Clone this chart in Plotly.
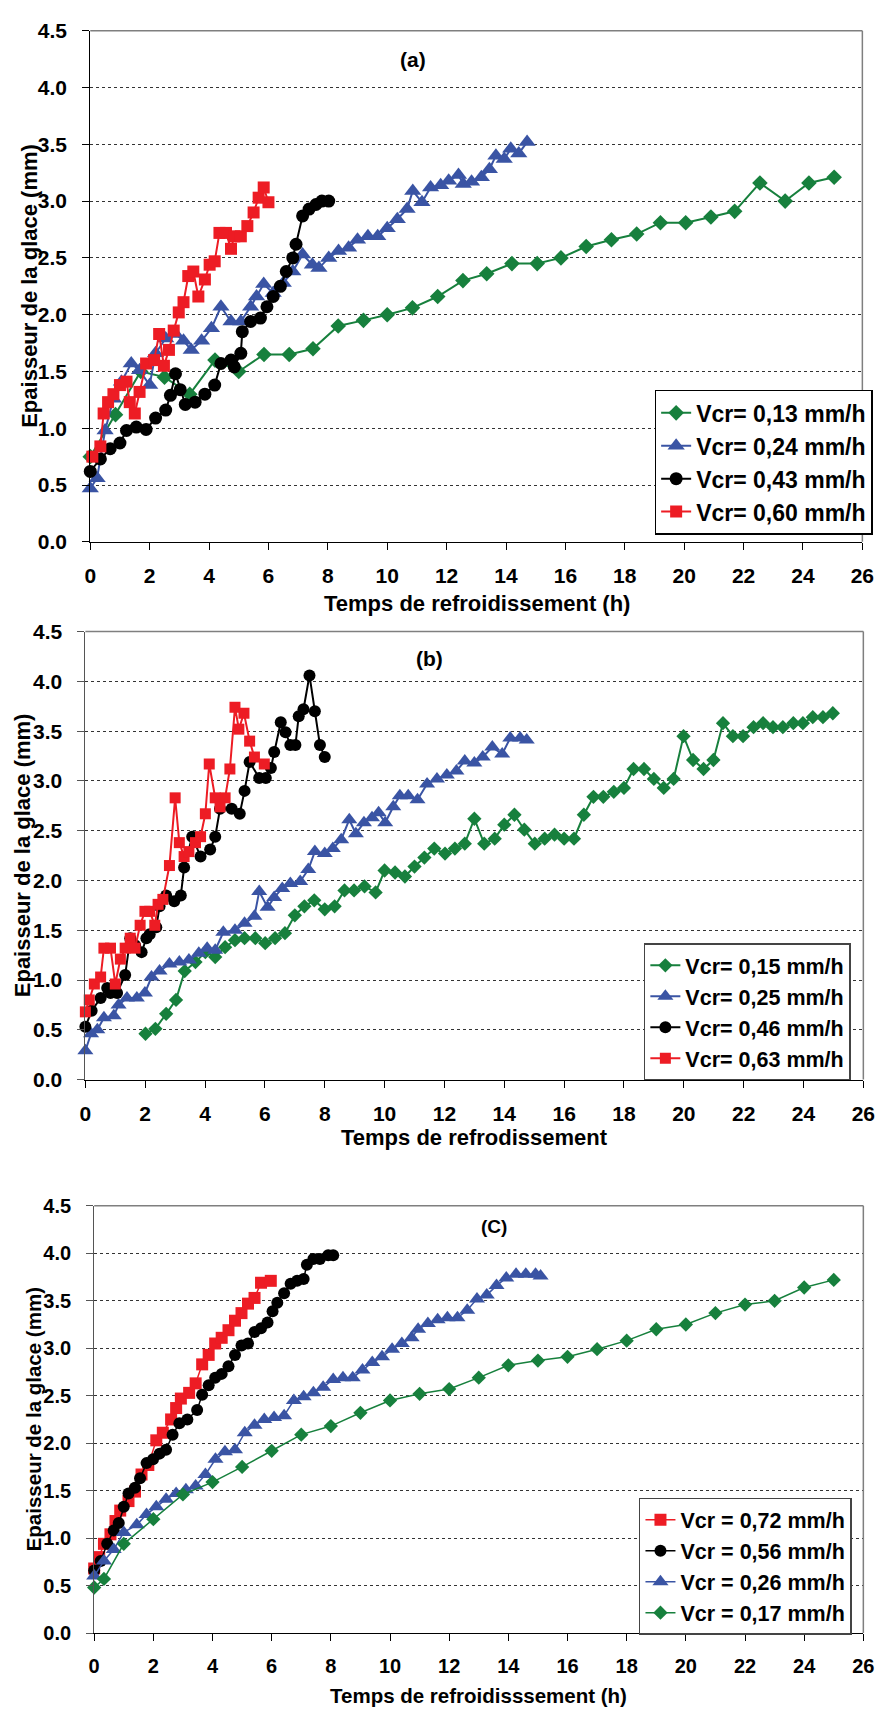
import plotly.graph_objects as go

# ---------- panel (a) ----------
ta_013 = [0.0, 0.85, 1.7, 2.5, 3.35, 4.2, 5.0, 5.85, 6.7, 7.5, 8.35, 9.2, 10.0, 10.85, 11.7, 12.55,
          13.35, 14.2, 15.05, 15.85, 16.7, 17.55, 18.4, 19.2, 20.05, 20.9, 21.7, 22.55, 23.4, 24.2, 25.05]
ha_013 = [0.75, 1.12, 1.5, 1.45, 1.3, 1.6, 1.5, 1.65, 1.65, 1.7, 1.9, 1.95, 2.0, 2.06, 2.16, 2.3,
          2.36, 2.45, 2.45, 2.5, 2.6, 2.66, 2.71, 2.81, 2.81, 2.86, 2.91, 3.16, 3.0, 3.16, 3.21]
ta_024 = [0.0, 0.23, 0.5, 0.78, 1.05, 1.38, 1.66, 2.0, 2.2, 2.54, 2.87, 3.14, 3.4, 3.75, 4.08, 4.4,
          4.74, 5.07, 5.4, 5.6, 5.84, 6.16, 6.5, 6.82, 7.15, 7.48, 7.7, 8.03, 8.36, 8.7, 9.0, 9.35,
          9.68, 10.0, 10.34, 10.67, 10.86, 11.17, 11.46, 11.8, 12.07, 12.4, 12.56, 12.84, 13.17,
          13.44, 13.66, 13.94, 14.16, 14.43, 14.71]
ha_024 = [0.47, 0.56, 0.98, 1.26, 1.41, 1.57, 1.51, 1.38, 1.66, 1.79, 1.83, 1.77, 1.69, 1.77, 1.88, 2.07,
          1.94, 1.94, 2.07, 2.16, 2.27, 2.19, 2.28, 2.38, 2.53, 2.44, 2.41, 2.5, 2.56, 2.59, 2.66, 2.69,
          2.69, 2.76, 2.84, 2.93, 3.09, 2.99, 3.12, 3.14, 3.18, 3.23, 3.15, 3.17, 3.21,
          3.28, 3.4, 3.37, 3.46, 3.42, 3.52]
ta_043 = [0.0, 0.34, 0.67, 1.0, 1.22, 1.55, 1.88, 2.2, 2.54, 2.7, 2.87, 3.03, 3.2, 3.53, 3.86, 4.19,
          4.4, 4.74, 4.85, 5.07, 5.12, 5.4, 5.73, 5.95, 6.16, 6.4, 6.6, 6.82, 6.93, 7.15, 7.37, 7.6, 7.8, 8.03]
ha_043 = [0.62, 0.73, 0.82, 0.87, 0.98, 1.01, 0.99, 1.09, 1.16, 1.29, 1.48, 1.34, 1.21, 1.23, 1.3, 1.38,
          1.57, 1.6, 1.54, 1.66, 1.85, 1.94, 1.97, 2.07, 2.16, 2.25, 2.38, 2.5, 2.62, 2.87, 2.93, 2.97, 3.0, 3.0]
ta_060 = [0.07, 0.34, 0.45, 0.6, 0.78, 1.0, 1.22, 1.33, 1.5, 1.66, 1.88, 2.15, 2.32, 2.48, 2.65, 2.81,
          2.98, 3.14, 3.3, 3.47, 3.64, 3.86, 4.02, 4.19, 4.35, 4.57, 4.74, 4.85, 5.07, 5.29, 5.5, 5.67, 5.84, 6.0]
ha_060 = [0.75, 0.84, 1.13, 1.23, 1.3, 1.38, 1.41, 1.23, 1.13, 1.32, 1.57, 1.6, 1.83, 1.55, 1.69, 1.86,
          2.02, 2.11, 2.34, 2.38, 2.16, 2.31, 2.44, 2.47, 2.72, 2.72, 2.58, 2.69, 2.69, 2.78, 2.9, 3.03, 3.12, 2.99]

# ---------- panel (b) ----------
tb_015 = [2.01, 2.34, 2.7, 3.03, 3.32, 3.68, 4.01, 4.34, 4.67, 5.0, 5.32, 5.68, 6.01, 6.34, 6.67, 7.0,
          7.32, 7.65, 8.0, 8.33, 8.66, 8.98, 9.33, 9.7, 10.0, 10.35, 10.68, 11.0, 11.33, 11.66, 12.02,
          12.35, 12.68, 13.0, 13.33, 13.68, 14.0, 14.34, 14.67, 15.02, 15.35, 15.68, 16.0, 16.33, 16.66,
          16.98, 17.31, 17.66, 18.0, 18.32, 18.67, 19.0, 19.33, 19.66, 19.99, 20.31, 20.66, 20.99, 21.31,
          21.64, 21.98, 22.33, 22.65, 22.98, 23.31, 23.66, 23.98, 24.31, 24.65, 24.98]
hb_015 = [0.46, 0.51, 0.66, 0.8, 1.09, 1.18, 1.28, 1.23, 1.33, 1.4, 1.42, 1.42, 1.37, 1.42, 1.47, 1.65,
          1.74, 1.8, 1.71, 1.74, 1.9, 1.9, 1.94, 1.88, 2.1, 2.08, 2.04, 2.14, 2.23, 2.32, 2.27,
          2.32, 2.37, 2.62, 2.37, 2.42, 2.56, 2.66, 2.51, 2.37, 2.42, 2.46, 2.42, 2.42, 2.66,
          2.84, 2.84, 2.89, 2.93, 3.12, 3.12, 3.02, 2.93, 3.02, 3.45, 3.21, 3.12, 3.21, 3.58,
          3.45, 3.45, 3.54, 3.58, 3.54, 3.54, 3.58, 3.58, 3.64, 3.64, 3.68]
tb_025 = [0.0, 0.19, 0.4, 0.62, 0.95, 1.11, 1.39, 1.72, 1.99, 2.21, 2.48, 2.81, 3.14, 3.46, 3.79, 4.07,
          4.34, 4.61, 5.0, 5.32, 5.65, 5.81, 6.09, 6.31, 6.58, 6.85, 7.18, 7.45, 7.67, 8.0, 8.27, 8.55,
          8.82, 9.04, 9.31, 9.58, 9.8, 10.02, 10.29, 10.51, 10.79, 11.1, 11.42, 11.75, 12.08, 12.4,
          12.68, 13.0, 13.28, 13.6, 13.93, 14.2, 14.53, 14.75]
hb_025 = [0.29, 0.46, 0.5, 0.62, 0.64, 0.75, 0.82, 0.82, 0.87, 1.03, 1.09, 1.16, 1.18, 1.2, 1.27, 1.32,
          1.3, 1.48, 1.5, 1.57, 1.64, 1.89, 1.73, 1.83, 1.92, 1.97, 1.99, 2.11, 2.29, 2.27, 2.32, 2.41,
          2.61, 2.47, 2.58, 2.63, 2.68, 2.58, 2.74, 2.85, 2.85, 2.81, 2.97, 3.02, 3.06, 3.1,
          3.2, 3.18, 3.24, 3.34, 3.27, 3.43, 3.43, 3.41]
tb_046 = [0.0, 0.21, 0.51, 0.73, 0.84, 1.06, 1.33, 1.5, 1.66, 1.88, 2.04, 2.15, 2.37, 2.48, 2.7, 2.97,
          3.19, 3.3, 3.57, 3.85, 4.17, 4.34, 4.5, 4.89, 5.16, 5.32, 5.49, 5.81, 6.03, 6.2, 6.31, 6.53,
          6.69, 6.85, 7.02, 7.13, 7.29, 7.49, 7.67, 7.84, 8.0]
hb_046 = [0.53, 0.69, 0.82, 0.92, 0.87, 0.87, 1.05, 1.42, 1.35, 1.28, 1.42, 1.46, 1.53, 1.74, 1.85, 1.79,
          1.85, 2.13, 2.44, 2.24, 2.31, 2.44, 2.72, 2.72, 2.67, 2.9, 3.19, 3.03, 3.03, 3.13, 3.29, 3.59,
          3.49, 3.36, 3.36, 3.65, 3.72, 4.06, 3.7, 3.36, 3.24]
tb_063 = [0.0, 0.13, 0.3, 0.51, 0.62, 0.84, 1.0, 1.17, 1.33, 1.5, 1.66, 1.83, 1.99, 2.15, 2.32, 2.43,
          2.59, 2.81, 3.0, 3.14, 3.3, 3.46, 3.68, 3.85, 4.01, 4.14, 4.34, 4.5, 4.67, 4.83, 5.0, 5.13,
          5.3, 5.49, 5.65, 5.98]
hb_063 = [0.68, 0.8, 0.96, 1.03, 1.32, 1.32, 0.96, 1.21, 1.32, 1.42, 1.32, 1.55, 1.69, 1.69, 1.55, 1.76,
          1.81, 2.15, 2.83, 2.38, 2.24, 2.29, 2.38, 2.44, 2.67, 3.17, 2.83, 2.74, 2.83, 3.12, 3.74, 3.52,
          3.68, 3.4, 3.24, 3.17]

# ---------- panel (c) ----------
tc_072 = [0.0, 0.17, 0.33, 0.55, 0.72, 0.88, 1.16, 1.38, 1.6, 1.83, 2.1, 2.32, 2.6, 2.77, 2.93, 3.21,
          3.43, 3.65, 3.87, 4.09, 4.31, 4.54, 4.76, 4.98, 5.2, 5.42, 5.64, 5.97]
hc_072 = [0.68, 0.8, 0.94, 1.04, 1.18, 1.29, 1.39, 1.49, 1.67, 1.77, 2.03, 2.11, 2.25, 2.37, 2.47, 2.53,
          2.63, 2.83, 2.93, 3.05, 3.11, 3.19, 3.29, 3.37, 3.47, 3.53, 3.69, 3.71]
tc_056 = [0.0, 0.22, 0.44, 0.66, 0.83, 1.0, 1.16, 1.38, 1.55, 1.77, 1.99, 2.21, 2.43, 2.65, 2.88, 3.15,
          3.48, 3.65, 3.87, 4.09, 4.31, 4.54, 4.76, 4.98, 5.2, 5.42, 5.64, 5.86, 6.03, 6.19, 6.42, 6.64,
          6.86, 7.08, 7.19, 7.41, 7.63, 7.91, 8.08]
hc_056 = [0.66, 0.76, 0.94, 1.08, 1.16, 1.33, 1.47, 1.53, 1.63, 1.79, 1.83, 1.89, 1.93, 2.09, 2.21, 2.25,
          2.35, 2.51, 2.61, 2.69, 2.73, 2.81, 2.93, 3.03, 3.05, 3.17, 3.21, 3.27, 3.39, 3.48, 3.58, 3.68,
          3.71, 3.73, 3.88, 3.94, 3.94, 3.98, 3.98]
tc_026 = [0.0, 0.33, 0.66, 1.0, 1.44, 1.77, 2.1, 2.43, 2.77, 3.1, 3.43, 3.76, 4.1, 4.42, 4.76, 5.09,
          5.42, 5.75, 6.08, 6.42, 6.75, 7.08, 7.41, 7.74, 8.08, 8.41, 8.74, 9.07, 9.4, 9.73, 10.07, 10.4,
          10.73, 10.95, 11.28, 11.61, 11.94, 12.28, 12.61, 12.94, 13.27, 13.6, 13.93, 14.26, 14.59, 14.92, 15.09]
hc_026 = [0.6, 0.76, 0.88, 1.06, 1.14, 1.25, 1.33, 1.41, 1.47, 1.51, 1.55, 1.67, 1.83, 1.91, 1.93, 2.11,
          2.19, 2.25, 2.27, 2.29, 2.45, 2.49, 2.53, 2.59, 2.67, 2.69, 2.69, 2.77, 2.85, 2.91, 2.99, 3.05,
          3.11, 3.2, 3.26, 3.3, 3.32, 3.32, 3.4, 3.52, 3.56, 3.66, 3.74, 3.78, 3.78, 3.78, 3.76]
tc_017 = [0.0, 0.33, 1.0, 2.0, 3.0, 4.0, 5.0, 6.0, 7.0, 8.0, 9.0, 10.0, 11.0, 12.0, 13.0, 14.0,
          15.0, 16.0, 17.0, 18.0, 19.0, 20.0, 21.0, 22.0, 23.0, 24.0, 25.0]
hc_017 = [0.48, 0.57, 0.94, 1.2, 1.46, 1.59, 1.75, 1.92, 2.09, 2.18, 2.32, 2.45, 2.52, 2.57, 2.69, 2.82,
          2.87, 2.91, 2.99, 3.08, 3.2, 3.25, 3.37, 3.46, 3.5, 3.64, 3.72]

GREEN, BLUE, BLACK, RED = "#17803d", "#3a54a4", "#000000", "#ed1c24"
FONT = "Liberation Sans, Arial, sans-serif"
W, H = 892, 1722

# pixel boxes of the three plot areas: (left, right, top, bottom)
boxes = [(86, 874, 19, 537), (81, 875, 628, 1082), (90, 875, 1210, 1643)]

fig = go.Figure()


def add(t, h, name, color, symbol, size, n, lw):
    sfx = "" if n == 1 else str(n)
    fig.add_trace(go.Scatter(
        x=t, y=h, name=name, mode="lines+markers", cliponaxis=False,
        line=dict(color=color, width=lw),
        marker=dict(symbol=symbol, size=size, color=color),
        xaxis="x" + sfx, yaxis="y" + sfx, legend="legend" + sfx))


add(ta_013, ha_013, "Vcr= 0,13 mm/h", GREEN, "diamond", 12, 1, 2)
add(ta_024, ha_024, "Vcr= 0,24 mm/h", BLUE, "triangle-up", 15, 1, 2)
add(ta_043, ha_043, "Vcr= 0,43 mm/h", BLACK, "circle", 13, 1, 2)
add(ta_060, ha_060, "Vcr= 0,60 mm/h", RED, "square", 12, 1, 2)

add(tb_015, hb_015, "Vcr= 0,15 mm/h", GREEN, "diamond", 11, 2, 2)
add(tb_025, hb_025, "Vcr= 0,25 mm/h", BLUE, "triangle-up", 14, 2, 2)
add(tb_046, hb_046, "Vcr= 0,46 mm/h", BLACK, "circle", 12, 2, 2)
add(tb_063, hb_063, "Vcr= 0,63 mm/h", RED, "square", 11, 2, 2)

add(tc_072, hc_072, "Vcr = 0,72 mm/h", RED, "square", 12, 3, 1.5)
add(tc_056, hc_056, "Vcr = 0,56 mm/h", BLACK, "circle", 12, 3, 1.5)
add(tc_026, hc_026, "Vcr = 0,26 mm/h", BLUE, "triangle-up", 14, 3, 1.5)
add(tc_017, hc_017, "Vcr = 0,17 mm/h", GREEN, "diamond", 11, 3, 1.5)

layout = dict(width=W, height=H, margin=dict(l=0, r=0, t=0, b=0),
              paper_bgcolor="white", plot_bgcolor="white", showlegend=True,
              font=dict(family=FONT, color="black"))

tick_sizes = [21, 21, 20]
for i, (l, r, t, b) in enumerate(boxes):
    sfx = "" if i == 0 else str(i + 1)
    ax_col = "black" if i == 0 else "#555555"
    layout["xaxis" + sfx] = dict(
        domain=[l / W, r / W], anchor="y" + sfx, range=[0, 26], tick0=0, dtick=2,
        ticks="outside", ticklen=7, tickcolor="black", showline=True, linecolor="black",
        showgrid=False, zeroline=False, ticklabelstandoff=8,
        tickfont=dict(family=FONT, size=tick_sizes[i], weight="bold"))
    layout["yaxis" + sfx] = dict(
        domain=[1 - b / H, 1 - t / H], anchor="x" + sfx, range=[0, 4.5], tick0=0, dtick=0.5,
        tickformat=".1f", ticks="outside", ticklen=7, tickcolor=ax_col, showline=True,
        linecolor=ax_col, showgrid=True, gridcolor="#333333", griddash="3px,3px", gridwidth=1,
        zeroline=False, ticklabelstandoff=11,
        tickfont=dict(family=FONT, size=tick_sizes[i], weight="bold"))

# legend boxes: left px, top px, font size, border colour
legend_pos = [(662, 383, 23, "black"), (651, 944, 21.5, "#444444"), (646, 1506, 21.5, "#444444")]
for i, (lx, ly, fs, bc) in enumerate(legend_pos):
    key = "legend" if i == 0 else "legend" + str(i + 1)
    layout[key] = dict(x=lx / W, y=1 - ly / H, xanchor="left", yanchor="top",
                       bgcolor="white", bordercolor=bc, borderwidth=1.5,
                       font=dict(family=FONT, size=fs, weight="bold"), tracegroupgap=0)

fig.update_layout(**layout)

# top / right frame lines in grey
for i in range(3):
    sfx = "" if i == 0 else str(i + 1)
    xr, yr = "x" + sfx + " domain", "y" + sfx + " domain"
    fig.add_shape(type="line", xref=xr, yref=yr, x0=0, x1=1, y0=1, y1=1,
                  line=dict(color="#7f7f7f", width=1.5), layer="above")
    fig.add_shape(type="line", xref=xr, yref=yr, x0=1, x1=1, y0=0, y1=1,
                  line=dict(color="#7f7f7f", width=1.5), layer="above")


def note(txt, px, py, fs, angle=0):
    fig.add_annotation(text=txt, x=px / W, y=1 - py / H, xref="paper", yref="paper",
                       xanchor="center", yanchor="middle", showarrow=False, textangle=angle,
                       font=dict(family=FONT, size=fs, weight="bold"))


# panel labels
note("(a)", 415, 48, 21)
note("(b)", 432, 655, 21)
note("(C)", 498, 1231, 19)

# axis titles
note("Temps de refroidissement (h)", 481, 600, 22)
note("Temps de refrodissement", 478, 1141, 22)
note("Temps de refroidisssement (h)", 482, 1706, 20.5)
note("Epaisseur de la glace (mm)", 24, 278, 22, -90)
note("Epaisseur de la glace (mm)", 17, 855, 22, -90)
note("Epaisseur de la glace (mm)", 29, 1426, 20.5, -90)

fig.write_html("out.html", config={"displayModeBar": False},
               post_script="document.body.style.margin='0';")
